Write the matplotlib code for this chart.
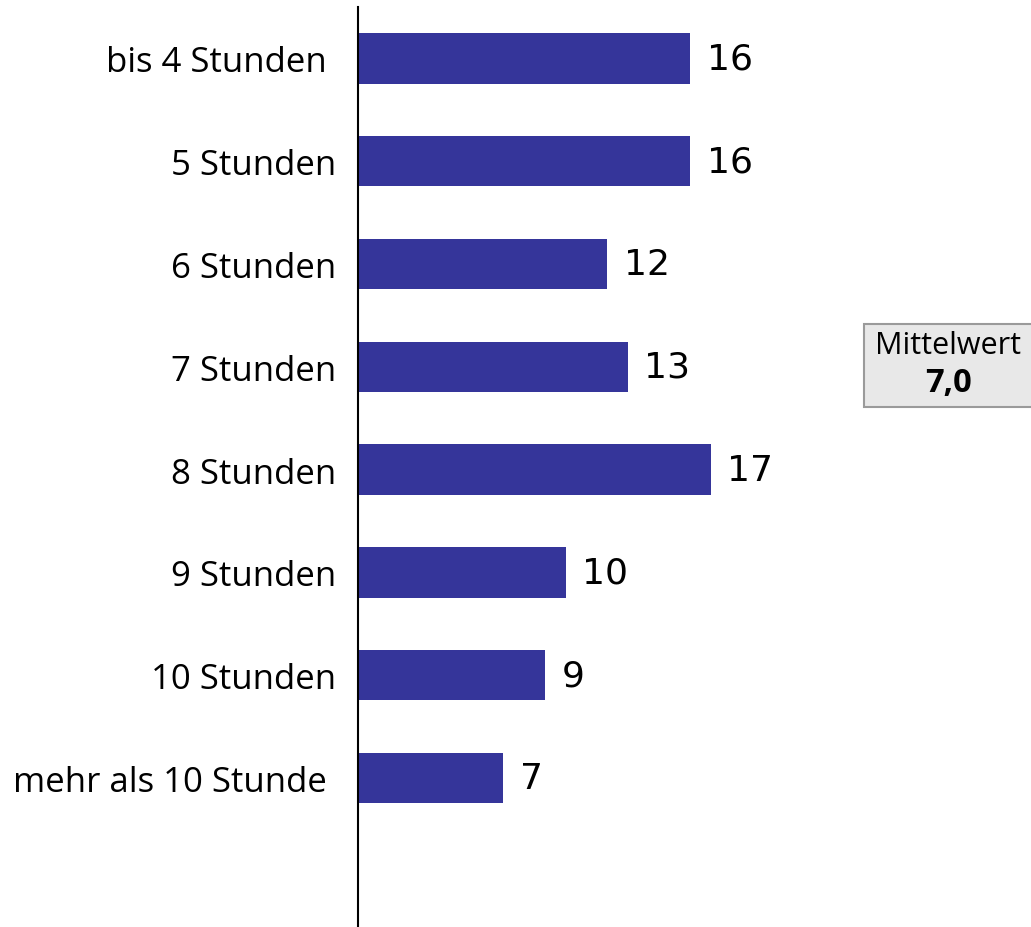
import matplotlib.pyplot as plt
from matplotlib.patches import Rectangle

categories = ['bis 4 Stunden ', '5 Stunden', '6 Stunden', '7 Stunden',
              '8 Stunden', '9 Stunden', '10 Stunden', 'mehr als 10 Stunde ']
values = [16, 16, 12, 13, 17, 10, 9, 7]
mean_label = 'Mittelwert'
mean_value = '7,0'

W, H = 1031, 928
fig = plt.figure(figsize=(W / 100, H / 100), dpi=100)

# axes: left edge at the vertical line, x scale ~20.75 px per unit
ax = fig.add_axes([358 / W, 0, 415 / W, 920 / H])
y = list(range(len(values)))
ax.barh(y, values, height=0.49, color='#35359a')
ax.set_xlim(0, 20)
ax.set_ylim(8.45, -0.5)

ax.set_yticks(y)
ax.set_yticklabels(categories, fontsize=25, fontfamily='Open Sans')
ax.tick_params(axis='y', length=0, pad=16)
ax.set_xticks([])
for s in ['top', 'right', 'bottom']:
    ax.spines[s].set_visible(False)
ax.spines['left'].set_linewidth(1.5)

# value labels
for yi, v in zip(y, values):
    ax.annotate(str(v), (v, yi), xytext=(12, 0), textcoords='offset points',
                va='center', ha='left', fontsize=26, fontfamily='DejaVu Sans')

# Mittelwert box
fig.patches.append(Rectangle((864 / W, 1 - 408 / H), 170 / W, 83 / H,
                             transform=fig.transFigure, facecolor='#e8e8e8',
                             edgecolor='#9a9a9a', linewidth=1.5))
fig.text(948 / W, 1 - 346 / H, mean_label, ha='center', va='center',
         fontsize=22, fontfamily='Open Sans')
fig.text(948 / W, 1 - 384 / H, mean_value, ha='center', va='center',
         fontsize=23.5, fontweight='bold', fontfamily='Open Sans')

fig.savefig('out.png', dpi=100)
